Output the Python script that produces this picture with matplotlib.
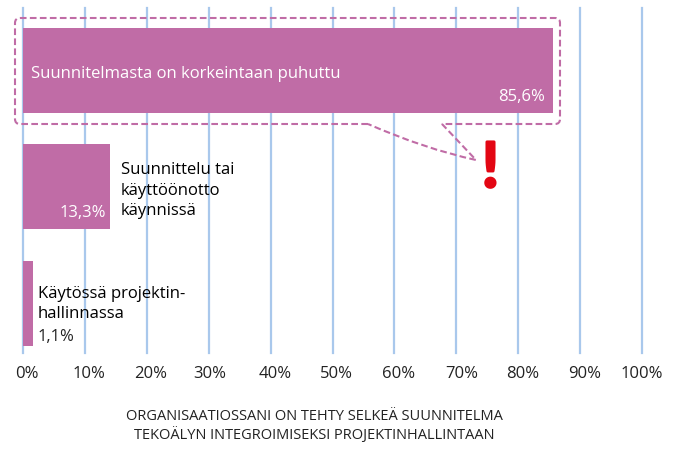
import matplotlib
matplotlib.use("Agg")
import matplotlib.pyplot as plt
import matplotlib.patheffects as pe
from matplotlib.path import Path
from matplotlib.patches import PathPatch
from matplotlib.transforms import offset_copy

plt.rcParams['font.family'] = ['Open Sans', 'DejaVu Sans']

bar_lengths = [85.6, 14.05, 1.6]
value_labels = ['85,6%', '13,3%', '1,1%']
categories = ['Suunnitelmasta on korkeintaan puhuttu',
              'Suunnittelu tai\nkäyttöönotto\nkäynnissä',
              'Käytössä projektin-\nhallinnassa']
ticks = [0, 10, 20, 30, 40, 50, 60, 70, 80, 90, 100]
tick_labels = [f'{t}%' for t in ticks]
tick_shift_px = [4, 4, 4, 1, 5, 4, 4, 5, 4, 5, 0]
caption = 'ORGANISAATIOSSANI ON TEHTY SELKEÄ SUUNNITELMA\nTEKOÄLYN INTEGROIMISEKSI PROJEKTINHALLINTAAN'

W, H = 684, 460
BAR = '#C06CA6'
GRID = '#A9C8EC'
FS = 12.0
YBOT = 2.427
fig = plt.figure(figsize=(W / 100, H / 100), dpi=100, facecolor='white')
ax = fig.add_axes([23 / W, 1 - 354 / H, 619 / W, 345 / H])
ax.set_xlim(0, 100)
ax.set_ylim(YBOT, -0.534)
ax.set_axisbelow(True)
ax.set_xticks(ticks)
ax.set_xticklabels([])
ax.set_yticks([])
ax.tick_params(length=0)
for s in ax.spines.values():
    s.set_visible(False)
for t in ticks:
    ax.axvline(t, color=GRID, lw=1.6, clip_on=False, zorder=0)
ypos = list(range(len(bar_lengths)))
ax.barh(ypos, bar_lengths, height=0.73, color=BAR, linewidth=0, zorder=2)

def shifted(dx_px, dy_px=0):
    return offset_copy(ax.transData, fig=fig, x=dx_px, y=dy_px, units='dots')

# category texts
ax.text(0, 0, categories[0], transform=shifted(8, -2.5), color='white', fontsize=FS, va='center', ha='left', zorder=3)
ax.text(bar_lengths[1], 1, categories[1], transform=shifted(11, -3), color='black', fontsize=FS, va='center', ha='left', linespacing=1.36, zorder=3)
ax.text(bar_lengths[2], 2, categories[2], transform=shifted(5, 0), color='black', fontsize=FS, va='center', ha='left', linespacing=1.36, zorder=3)
# value texts
ax.text(bar_lengths[0], 0, value_labels[0], transform=shifted(-8, -26), color='white', fontsize=FS, va='center', ha='right', zorder=3)
ax.text(bar_lengths[1], 1, value_labels[1], transform=shifted(-4, -25), color='white', fontsize=FS, va='center', ha='right', zorder=3)
ax.text(bar_lengths[2], 2, value_labels[2], transform=shifted(5, -33), color='#222222', fontsize=FS, va='center', ha='left', zorder=3)

# tick labels
for t, lab, dx in zip(ticks, tick_labels, tick_shift_px):
    ax.text(t, YBOT, lab, transform=shifted(dx, -20), color='#222222', fontsize=12.0, ha='center', va='center')

# overlay in pixel coordinates for callout
ov = fig.add_axes([0, 0, 1, 1], facecolor='none')
ov.set_xlim(0, W)
ov.set_ylim(H, 0)
ov.axis('off')
verts = [(368, 125), (20, 125), (15, 125), (15, 120), (15, 24), (15, 19), (20, 19),
         (555, 19), (560, 19), (560, 24), (560, 120), (560, 125), (555, 125), (442, 125),
         (476, 161), (425, 150), (368, 125)]
codes = [Path.MOVETO, Path.LINETO, Path.CURVE3, Path.CURVE3, Path.LINETO, Path.CURVE3, Path.CURVE3,
         Path.LINETO, Path.CURVE3, Path.CURVE3, Path.LINETO, Path.CURVE3, Path.CURVE3, Path.LINETO,
         Path.LINETO, Path.CURVE3, Path.CURVE3]
ov.add_patch(PathPatch(Path(verts, codes), fill=False, ec=BAR, lw=1.5, ls=(0, (3.2, 1.6))))
ov.text(490.5, 188, '!', color='#E30613', fontsize=45, fontweight='bold', family='Lato', ha='center', va='baseline',
        path_effects=[pe.withStroke(linewidth=2.0, foreground='#E30613')])
ov.text(314, 426, caption, color='#222222', fontsize=10.55, ha='center', va='center', linespacing=1.25)

fig.savefig('out.png', dpi=100)
